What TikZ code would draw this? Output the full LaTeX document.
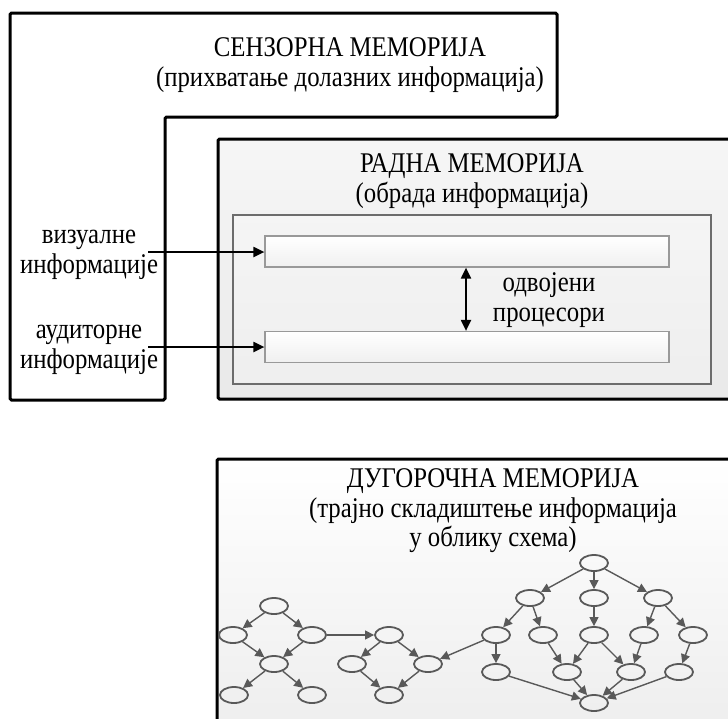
\documentclass[tikz,border=0pt]{standalone}
\usepackage{fontspec}
\setmainfont{Liberation Serif}[FakeStretch=0.87]
\usetikzlibrary{shapes.geometric,arrows.meta}
\definecolor{graycol}{HTML}{595959}
\definecolor{wmtop}{HTML}{F6F6F6}
\definecolor{wmbot}{HTML}{E9E9E9}
\begin{document}
\begin{tikzpicture}[x=1pt,y=-1pt,
  txt/.style={font=\fontsize{28.5}{29.5}\selectfont, align=center, inner sep=0pt},
  bigbox/.style={draw=black, line width=3pt, rounded corners=1.5pt},
  bar/.style={draw=gray!80, line width=1.2pt, top color=white, bottom color=gray!12},
  gn/.style={ellipse, draw=graycol, line width=1.8pt, minimum width=28pt, minimum height=16pt, inner sep=0pt},
  ga/.style={draw=graycol, line width=1.4pt, -{Triangle[length=9pt,width=9pt]}},
  ba/.style={draw=black, line width=2pt, -{Triangle[length=11pt,width=10pt]}},
  dba/.style={draw=black, line width=2pt, {Triangle[length=11pt,width=10pt]}-{Triangle[length=11pt,width=10pt]}}
]
\useasboundingbox (0,0) rectangle (728,718);
\clip (0,0) rectangle (728,718);
\fill[white] (0,0) rectangle (728,718);

% sensory memory
\draw[bigbox, fill=white] (10,13) -- (557,13) -- (557,117) -- (165,117) -- (165,400) -- (10,400) -- cycle;
\node[txt] (sens) at (350,65) {СЕНЗОРНА МЕМОРИЈА\\(прихватање долазних информација)};

% working memory
\draw[bigbox, top color=wmtop, bottom color=wmbot] (218,139) rectangle (740,399);
\node[txt] (wm) at (472,181) {РАДНА МЕМОРИЈА\\(обрада информација)};
\draw[draw=gray!85!black, line width=2pt, top color=white!96!black, bottom color=gray!13] (233,215) rectangle (711,384);
\node[bar, minimum width=404pt, minimum height=31pt, inner sep=0pt] (bar1) at (467,251.5) {};
\node[bar, minimum width=404pt, minimum height=31pt, inner sep=0pt] (bar2) at (467,347) {};
\coordinate (da) at ([xshift=-1pt]bar1.south);
\coordinate (db) at ([xshift=-1pt]bar2.north);
\draw[dba] (da) -- (db);
\node[txt] (proc) at (549,300) {одвојени\\процесори};

% inputs
\node[txt] (vis) at (89,255) {визуалне\\информације};
\node[txt] (aud) at (89,350) {аудиторне\\информације};
\coordinate (s1) at (148,252);
\coordinate (s2) at (148,347);
\draw[ba] (s1) -- (s1 -| bar1.west);
\draw[ba] (s2) -- (s2 -| bar2.west);

% long-term memory
\draw[bigbox, top color=white, bottom color=gray!14] (217,459) rectangle (740,740);
\node[txt] (ltm) at (493,511) {ДУГОРОЧНА МЕМОРИЈА\\(трајно складиштење информација\\у облику схема)};

% schema graphs
\node[gn] (a) at (274,606) {};
\node[gn] (b) at (233,635) {};
\node[gn] (c) at (312,635) {};
\node[gn] (d) at (274,664) {};
\node[gn] (e) at (234,695) {};
\node[gn] (f) at (312,695) {};
\node[gn] (g) at (389,635) {};
\node[gn] (h) at (352,664) {};
\node[gn] (i) at (428,664) {};
\node[gn] (j) at (389,695) {};
\node[gn] (t) at (594,563) {};
\node[gn] (p1) at (530,598) {};
\node[gn] (p2) at (594,598) {};
\node[gn] (p3) at (658,598) {};
\node[gn] (q1) at (496,635) {};
\node[gn] (q2) at (543,635) {};
\node[gn] (q3) at (594,635) {};
\node[gn] (q4) at (644,635) {};
\node[gn] (q5) at (693,635) {};
\node[gn] (r1) at (496,672) {};
\node[gn] (r2) at (567,672) {};
\node[gn] (r3) at (631,672) {};
\node[gn] (r4) at (679,672) {};
\node[gn] (z) at (594,703) {};

\foreach \u/\v in {a/b,a/c,b/d,c/d,d/e,d/f,c/g,g/h,g/i,h/j,i/j,
  t/p1,t/p2,t/p3,p1/q1,p1/q2,p2/q3,p3/q4,p3/q5,q1/r1,q2/r2,q3/r2,q3/r3,q4/r3,q5/r4,
  r1/z,r2/z,r3/z,r4/z,q1/i}
  \draw[ga] (\u) -- (\v);
\end{tikzpicture}
\end{document}
